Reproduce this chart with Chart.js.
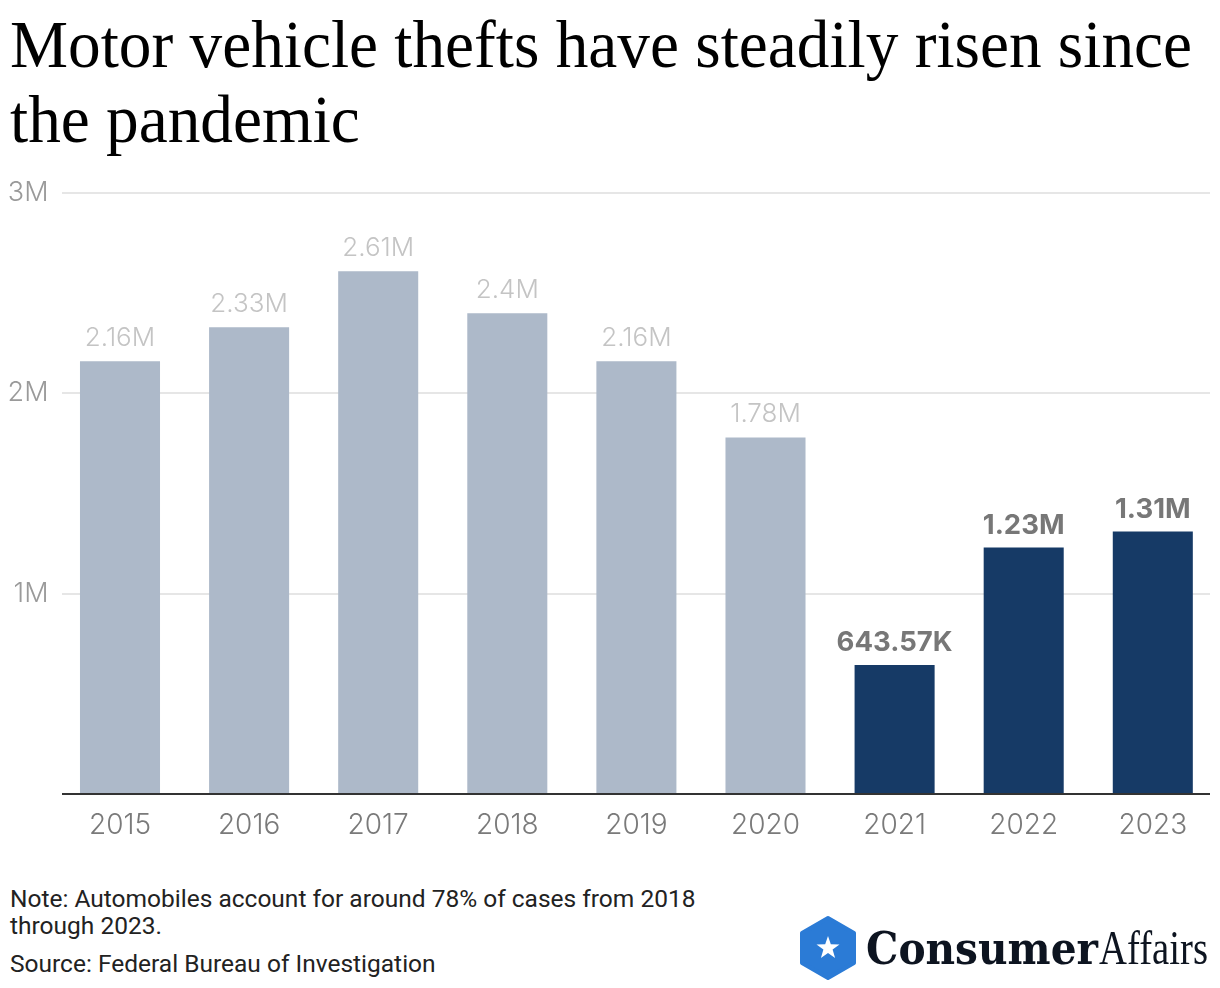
<!DOCTYPE html>
<html>
<head>
<meta charset="utf-8">
<script src="https://cdn.jsdelivr.net/npm/chart.js@4.4.0/dist/chart.umd.min.js"></script>
<style>
  body { margin: 0; background: #fff; width: 1220px; height: 988px; position: relative; overflow: hidden; }
  #title { position: absolute; left: 10px; top: 7px; font-family: "Liberation Serif", serif; font-size: 68px; line-height: 75px; color: #000; white-space: nowrap; }
  #title span { display: inline-block; transform-origin: left top; }
  #wrap { position: absolute; left: 0; top: 150px; width: 1220px; height: 720px; }
  #note, #source { position: absolute; left: 10px; font-family: Roboto, sans-serif; font-size: 24.5px; line-height: 27px; color: #222; }
  #note { top: 885px; }
  #source { top: 950px; }
  #logo { position: absolute; left: 0; top: 0; }
</style>
</head>
<body>
<div id="title"><span id="t1">Motor vehicle thefts have steadily risen since</span><br><span id="t2">the pandemic</span></div>
<div id="wrap"><canvas id="q1Chart"></canvas></div>
<div id="note">Note: Automobiles account for around 78% of cases from 2018<br>through 2023.</div>
<div id="source">Source: Federal Bureau of Investigation</div>
<svg id="logo" width="1220" height="988" style="pointer-events:none">
  <polygon points="828,918 854,933 854,963 828,978 802,963 802,933" fill="#2b7bd6" stroke="#2b7bd6" stroke-width="4" stroke-linejoin="round"/>
  <polygon points="828,936 830.8,944.2 839.5,944.4 832.6,949.6 835.1,958 828,953 820.9,958 823.4,949.6 816.5,944.4 825.2,944.2" fill="#fff"/>
  <text x="866" y="964" font-family="DejaVu Serif" font-weight="bold" font-size="45" fill="#0d1420" textLength="232" lengthAdjust="spacingAndGlyphs">Consumer</text>
  <text x="1099" y="964" font-family="Liberation Serif" font-size="48" fill="#0d1420" textLength="109" lengthAdjust="spacingAndGlyphs">Affairs</text>
</svg>
<script>
const years = ['2015', '2016', '2017', '2018', '2019', '2020', '2021', '2022', '2023'];
const thefts = [2160000, 2330000, 2610000, 2400000, 2160000, 1780000, 643570, 1230000, 1310000];
const highlighted = [false, false, false, false, false, false, true, true, true];
const yTicks = [0, 1000000, 2000000, 3000000];

// fit title line to its width in the picture
const t1 = document.getElementById('t1');
const sc = 1182 / t1.getBoundingClientRect().width;
t1.style.transform = 'scaleX(' + sc + ')';
document.getElementById('t2').style.transform = 'scaleX(' + sc + ')';

function fmt(v) {
    if (v >= 1000000) return parseFloat((v / 1000000).toFixed(2)) + 'M';
    return (v / 1000).toFixed(2) + 'K';
}

const gridPlugin = {
    id: 'grid',
    beforeDatasetsDraw(chart) {
        const c = chart.ctx, y = chart.scales.y;
        c.save();
        c.strokeStyle = '#e6e6e6';
        c.lineWidth = 2;
        yTicks.slice(1).forEach(t => {
            const py = Math.round(y.getPixelForValue(t));
            c.beginPath(); c.moveTo(62, py); c.lineTo(1210, py); c.stroke();
        });
        c.restore();
    },
    afterDatasetsDraw(chart) {
        const c = chart.ctx, y = chart.scales.y;
        const meta = chart.getDatasetMeta(0);
        c.save();
        c.strokeStyle = '#333';
        c.lineWidth = 2;
        const py = y.getPixelForValue(0);
        c.beginPath(); c.moveTo(62, py); c.lineTo(1210, py); c.stroke();
        c.textAlign = 'center';
        c.textBaseline = 'alphabetic';
        meta.data.forEach((bar, i) => {
            if (highlighted[i]) {
                c.font = 'bold 27.5px Inter, sans-serif';
                c.fillStyle = '#777';
                c.fillText(fmt(thefts[i]), bar.x, bar.y - 14);
            } else {
                c.font = '300 26px Inter, sans-serif';
                c.fillStyle = '#c4c4c4';
                c.fillText(fmt(thefts[i]), bar.x, bar.y - 15);
            }
        });
        c.restore();
    }
};

const ctx = document.getElementById('q1Chart').getContext('2d');
const myChart = new Chart(ctx, {
    type: 'bar',
    data: {
        labels: years,
        datasets: [{
            data: thefts,
            backgroundColor: highlighted.map(h => h ? '#163a66' : '#adb9c9'),
            categoryPercentage: 1,
            barPercentage: 0.62
        }]
    },
    options: {
        responsive: true,
        maintainAspectRatio: false,
        animation: false,
        layout: { padding: { top: 43, right: 2.65, left: 0, bottom: 0 } },
        plugins: { legend: { display: false }, tooltip: { enabled: false } },
        scales: {
            x: {
                grid: { display: false },
                border: { display: false },
                ticks: { color: '#7a7a7a', font: { family: 'Inter', size: 28, weight: '300' }, padding: 7 },
                afterFit: s => { s.height = 76; }
            },
            y: {
                min: 0,
                max: 3000000,
                grid: { display: false, drawTicks: false },
                border: { display: false },
                ticks: {
                    stepSize: 1000000,
                    padding: 7,
                    color: '#9a9a9a',
                    font: { family: 'Inter', size: 27, weight: '300' },
                    callback: v => v === 0 ? '' : (v / 1000000) + 'M'
                },
                afterFit: s => { s.width = 55.45; }
            }
        }
    },
    plugins: [gridPlugin]
});
</script>
</body>
</html>
